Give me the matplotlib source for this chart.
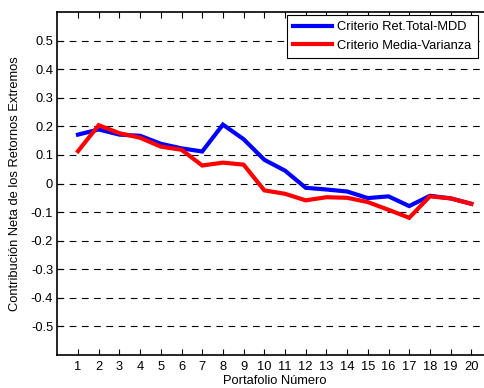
import matplotlib
matplotlib.use("Agg")
import matplotlib.pyplot as plt

portfolios = list(range(1, 21))
ret_total_mdd = [0.171, 0.189, 0.171, 0.167, 0.139, 0.123, 0.112, 0.206, 0.155, 0.083,
                 0.045, -0.015, -0.021, -0.028, -0.051, -0.045, -0.079, -0.043, -0.052, -0.071]
media_varianza = [0.113, 0.204, 0.176, 0.160, 0.129, 0.118, 0.063, 0.073, 0.066, -0.024,
                  -0.036, -0.059, -0.048, -0.050, -0.065, -0.092, -0.120, -0.045, -0.052, -0.071]
yticks = [0.5, 0.4, 0.3, 0.2, 0.1, 0, -0.1, -0.2, -0.3, -0.4, -0.5]
ytick_labels = ["0.5", "0.4", "0.3", "0.2", "0.1", "0", "-0.1", "-0.2", "-0.3", "-0.4", "-0.5"]

FS = 9.3
plt.rcParams['font.family'] = ['Liberation Sans', 'DejaVu Sans']
plt.rcParams['font.size'] = FS

fig = plt.figure(figsize=(4.84, 3.88), dpi=100)
ax = fig.add_axes([57.3 / 484, 33 / 388, (492 - 57.3) / 484, (355 - 12) / 388])

ax.plot(portfolios, ret_total_mdd, color='#0000ff', lw=3, label='Criterio Ret.Total-MDD', solid_joinstyle='miter')
ax.plot(portfolios, media_varianza, color='#ff0000', lw=3, label='Criterio Media-Varianza', solid_joinstyle='miter')

ax.set_xlim(0, 21)
ax.set_ylim(-0.6, 0.6)
ax.set_xticks(portfolios)
ax.set_yticks(yticks)
ax.set_yticklabels(ytick_labels)
ax.tick_params(direction='in', length=4, width=0.8, top=True, right=True, labelsize=FS)
ax.tick_params(axis='y', pad=3)
ax.tick_params(axis='x', pad=4)

for y in yticks:
    ax.axhline(y, color='black', lw=0.8, dashes=(6, 5), zorder=0)

for s in ax.spines.values():
    s.set_linewidth(1.2)

ax.set_xlabel('Portafolio Número', fontsize=FS, labelpad=2)
ax.set_ylabel('Contribución Neta de los Retornos Extremos', fontsize=FS, labelpad=7)

leg = ax.legend(loc='upper right', bbox_to_anchor=(478 / 484, 1 - 15 / 388), bbox_transform=fig.transFigure,
                fancybox=False, framealpha=1, edgecolor='black', handlelength=3.0, borderpad=0.5,
                labelspacing=0.5, handletextpad=0.4, borderaxespad=0, fontsize=FS)
leg.get_frame().set_linewidth(0.8)

fig.savefig('out.png', dpi=100)
